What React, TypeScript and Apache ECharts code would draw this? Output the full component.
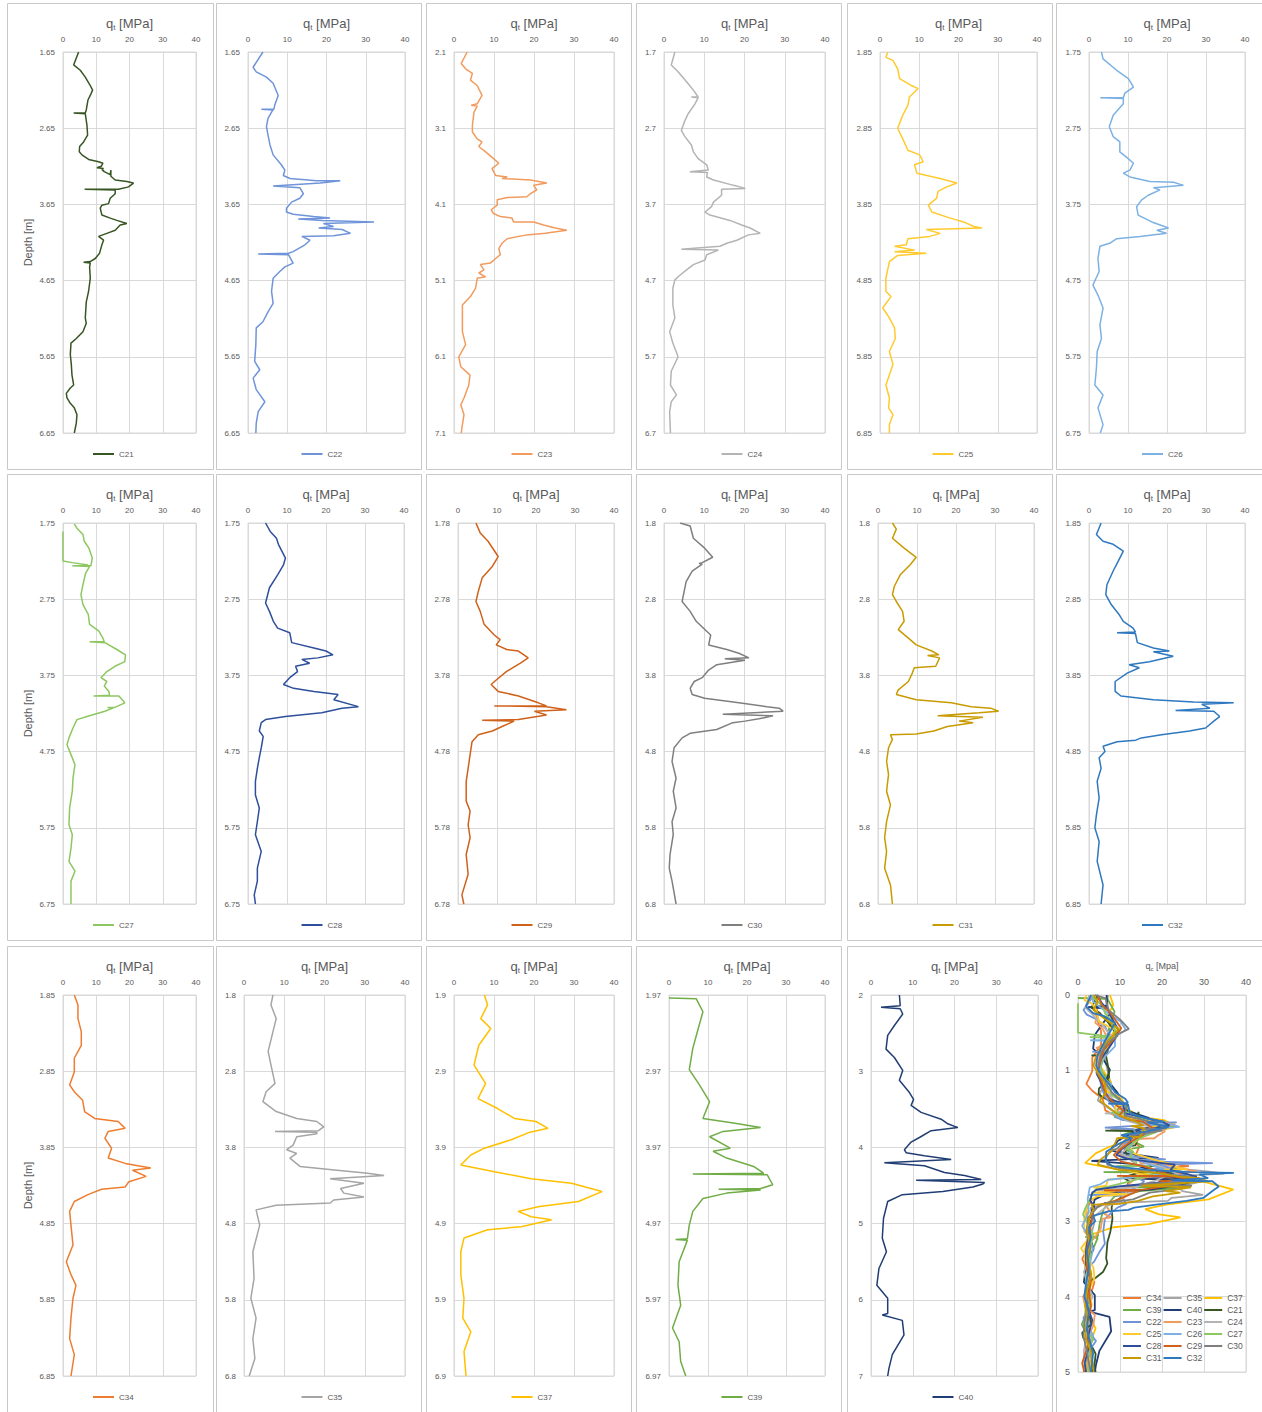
import React, { useEffect, useRef } from "react";
import * as echarts from "echarts";

// ---------- DATA: [q (MPa), depth below first reading (m)] ----------
const C21 = [[4.7,0],[3.2,0.17],[5.2,0.24],[6.7,0.33],[8.2,0.44],[8.9,0.5],[8.2,0.57],[7.5,0.63],[7.0,0.76],[6.7,0.8],[3.2,0.8],[6.7,0.81],[7.2,0.96],[7.4,1.09],[6.2,1.18],[5.0,1.24],[4.9,1.31],[5.7,1.35],[7.7,1.41],[10.7,1.44],[12.0,1.46],[11.5,1.5],[10.2,1.52],[12.2,1.53],[11.7,1.54],[12.4,1.57],[14.2,1.61],[14.4,1.55],[14.4,1.63],[15.7,1.68],[19.2,1.70],[21.2,1.72],[19.7,1.77],[16.7,1.80],[6.5,1.80],[15.7,1.81],[15.7,1.86],[14.2,1.92],[13.7,1.99],[11.7,2.01],[11.2,2.05],[11.7,2.14],[14.2,2.18],[16.2,2.21],[19.2,2.25],[17.2,2.27],[15.7,2.34],[13.2,2.38],[10.7,2.42],[12.2,2.47],[11.7,2.53],[11.0,2.64],[9.7,2.71],[8.2,2.75],[6.2,2.76],[8.2,2.77],[8.0,2.82],[8.2,2.97],[7.7,3.14],[7.0,3.28],[6.7,3.49],[7.0,3.56],[6.0,3.67],[4.0,3.76],[2.4,3.82],[2.2,3.97],[2.5,4.1],[2.7,4.24],[3.2,4.37],[2.2,4.41],[1.0,4.48],[1.2,4.54],[2.2,4.61],[3.4,4.67],[4.2,4.76],[4.0,4.87],[3.4,5.0]];
const C22 = [[3.8,0],[1.3,0.2],[2.1,0.26],[4.7,0.33],[6.4,0.41],[7.7,0.57],[6.8,0.70],[6.6,0.75],[3.4,0.75],[6.4,0.76],[6.0,0.79],[5.1,0.87],[4.7,0.98],[5.1,1.09],[5.6,1.22],[6.4,1.35],[8.5,1.48],[9.4,1.55],[9.0,1.62],[10.7,1.66],[17.5,1.69],[23.5,1.69],[18.4,1.72],[6.4,1.76],[13.2,1.78],[14.1,1.86],[13.2,1.92],[11.1,1.97],[9.8,2.05],[9.8,2.10],[11.5,2.13],[16.7,2.16],[20.9,2.18],[12.8,2.19],[19.0,2.21],[32.1,2.23],[19.2,2.25],[21.8,2.29],[18.0,2.31],[24.0,2.33],[26.1,2.38],[21.8,2.41],[13.7,2.42],[15.8,2.47],[14.5,2.53],[11.5,2.62],[10.3,2.64],[2.6,2.65],[10.3,2.66],[11.5,2.77],[9.4,2.82],[8.1,2.88],[6.4,2.97],[6.0,3.14],[6.4,3.30],[5.1,3.41],[3.8,3.54],[2.1,3.62],[2.0,3.84],[1.7,4.06],[3.0,4.17],[1.3,4.28],[2.1,4.43],[4.3,4.59],[2.6,4.72],[2.1,4.87],[2.0,5.0]];
const C23 = [[3.3,0],[1.8,0.15],[2.9,0.22],[4.6,0.28],[4.1,0.37],[5.8,0.44],[7.0,0.57],[5.8,0.68],[4.3,0.7],[5.8,0.71],[5.0,0.79],[4.6,0.96],[4.6,1.05],[5.8,1.14],[7.0,1.18],[6.2,1.24],[7.9,1.31],[9.9,1.40],[11.2,1.46],[9.5,1.53],[10.4,1.62],[13.3,1.64],[12.0,1.66],[19.1,1.68],[23.2,1.72],[19.9,1.75],[20.7,1.81],[19.1,1.86],[18.2,1.90],[13.3,1.91],[10.8,1.94],[10.8,2.01],[9.3,2.07],[9.9,2.12],[11.6,2.16],[14.5,2.18],[14.9,2.23],[19.9,2.23],[22.4,2.27],[25.3,2.31],[28.2,2.34],[22.8,2.38],[18.2,2.40],[13.3,2.45],[12.0,2.51],[11.2,2.58],[11.6,2.66],[10.4,2.71],[9.1,2.77],[6.6,2.79],[7.5,2.86],[6.2,2.90],[7.9,2.95],[5.8,2.97],[5.4,3.10],[4.1,3.21],[2.1,3.32],[2.1,3.49],[2.1,3.67],[2.9,3.84],[1.2,4.00],[1.7,4.13],[4.0,4.24],[3.7,4.37],[2.5,4.54],[1.7,4.63],[2.5,4.76],[2.1,4.89],[1.8,5.0]];
const C24 = [[2.7,0],[1.8,0.17],[3.5,0.26],[5.6,0.39],[7.3,0.5],[8.5,0.59],[6.8,0.59],[8.5,0.6],[7.7,0.68],[6.0,0.81],[5.2,0.90],[4.3,1.03],[5.2,1.11],[6.8,1.22],[7.3,1.31],[8.5,1.40],[10.6,1.48],[11.0,1.55],[6.4,1.57],[10.8,1.58],[10.6,1.64],[12.3,1.68],[17.3,1.75],[20.2,1.79],[14.3,1.80],[14.3,1.88],[12.3,1.97],[11.8,2.03],[10.2,2.10],[11.4,2.14],[16.4,2.21],[19.3,2.27],[21.4,2.31],[23.9,2.38],[21.0,2.40],[18.1,2.47],[15.6,2.51],[13.9,2.55],[4.3,2.59],[13.5,2.60],[10.6,2.66],[10.2,2.73],[7.3,2.79],[5.6,2.86],[3.5,2.95],[2.7,2.99],[2.2,3.10],[2.2,3.32],[2.7,3.49],[1.4,3.67],[2.2,3.82],[3.5,4.00],[1.8,4.19],[1.6,4.37],[3.1,4.50],[1.8,4.59],[1.4,4.72],[1.6,5.0]];
const C25 = [[2.0,0],[1.5,0.07],[3.3,0.11],[4.5,0.22],[5.0,0.35],[8.0,0.44],[9.7,0.48],[7.5,0.59],[7.1,0.70],[5.8,0.83],[4.5,1.0],[5.8,1.14],[7.1,1.29],[10.1,1.35],[11.0,1.44],[8.8,1.48],[9.4,1.59],[15.3,1.66],[19.6,1.72],[17.0,1.77],[14.8,1.83],[14.4,1.92],[12.3,2.01],[13.2,2.10],[17.9,2.18],[21.3,2.23],[23.9,2.29],[26.0,2.31],[11.8,2.33],[15.3,2.38],[12.7,2.42],[7.1,2.45],[6.7,2.53],[3.7,2.55],[8.8,2.60],[3.7,2.62],[11.8,2.64],[4.5,2.67],[2.4,2.75],[1.5,2.97],[1.5,3.14],[2.8,3.21],[0.7,3.36],[2.4,3.49],[3.7,3.62],[3.9,3.76],[2.4,3.93],[3.3,4.10],[1.5,4.37],[2.4,4.54],[2.2,4.67],[3.3,4.76],[2.4,4.89],[2.4,5.0]];
const C26 = [[3.2,0],[3.6,0.09],[7.1,0.24],[10.1,0.35],[11.4,0.46],[9.2,0.54],[8.8,0.60],[2.9,0.60],[8.8,0.61],[8.8,0.68],[6.2,0.83],[5.2,0.98],[6.2,1.11],[7.9,1.18],[7.9,1.31],[9.6,1.38],[11.4,1.46],[10.5,1.55],[8.8,1.59],[10.5,1.64],[15.6,1.70],[21.7,1.71],[24.2,1.75],[16.5,1.78],[18.2,1.81],[15.2,1.88],[13.5,1.94],[12.2,2.03],[12.6,2.14],[16.1,2.23],[20.4,2.31],[17.4,2.34],[19.9,2.38],[13.1,2.42],[7.1,2.45],[5.3,2.51],[2.8,2.55],[2.3,2.71],[2.6,2.88],[1.0,3.06],[2.3,3.19],[3.6,3.36],[2.8,3.58],[3.2,3.76],[2.1,3.93],[1.9,4.15],[1.5,4.37],[3.6,4.50],[2.3,4.67],[3.6,4.89],[2.9,5.0]];
const C27 = [[3.4,0.01],[4.2,0.07],[6.0,0.15],[6.4,0.24],[7.8,0.33],[8.8,0.46],[8.4,0.56],[2.8,0.56],[8.0,0.57],[6.8,0.66],[6.0,0.81],[5.4,0.94],[6.0,1.07],[7.6,1.20],[8.0,1.33],[10.8,1.42],[12.0,1.51],[12.4,1.56],[8.0,1.56],[12.6,1.57],[16.2,1.66],[18.8,1.73],[18.6,1.82],[15.6,1.88],[13.2,1.95],[11.4,2.03],[13.2,2.08],[12.4,2.14],[13.8,2.21],[14.0,2.26],[9.2,2.27],[16.8,2.27],[18.6,2.36],[15.6,2.42],[13.4,2.42],[15.0,2.43],[12.6,2.47],[7.2,2.54],[4.2,2.58],[3.0,2.69],[1.8,2.82],[1.2,2.91],[2.4,3.04],[3.6,3.17],[3.0,3.35],[2.8,3.52],[2.0,3.74],[1.8,3.96],[2.8,4.09],[2.4,4.27],[1.8,4.44],[3.6,4.57],[2.4,4.70],[2.4,5.0]];
const C27_ZERO_SEGMENT = [[0,0.11],[0,0.50],[2.8,0.52],[7.5,0.55]];
const C28 = [[4.5,0],[5.7,0.11],[7.3,0.20],[7.8,0.28],[9.6,0.46],[9.1,0.55],[7.6,0.68],[5.5,0.85],[4.5,1.05],[5.5,1.16],[6.5,1.29],[7.6,1.38],[10.7,1.44],[11.2,1.57],[16.9,1.64],[20.0,1.68],[21.8,1.73],[17.9,1.77],[13.8,1.79],[15.8,1.84],[12.2,1.88],[12.7,1.95],[10.7,2.03],[9.1,2.12],[11.7,2.17],[16.9,2.21],[23.1,2.25],[22.0,2.32],[28.3,2.41],[24.1,2.43],[18.9,2.49],[9.6,2.54],[4.5,2.58],[3.4,2.62],[2.9,2.73],[3.9,2.80],[3.4,2.95],[2.9,3.08],[2.4,3.22],[1.9,3.39],[1.9,3.57],[2.9,3.74],[2.4,3.92],[1.9,4.09],[3.4,4.31],[2.4,4.53],[2.4,4.70],[1.6,4.88],[1.9,5.0]];
const C29 = [[4.6,0],[5.7,0.13],[7.7,0.24],[10.3,0.44],[8.8,0.57],[6.2,0.72],[5.2,0.90],[4.6,1.03],[5.7,1.16],[6.7,1.33],[9.3,1.47],[10.8,1.53],[9.8,1.60],[12.5,1.66],[15.5,1.68],[18.0,1.77],[16.0,1.84],[12.4,1.95],[9.8,2.06],[8.5,2.12],[10.3,2.21],[15.5,2.27],[20.6,2.36],[22.7,2.40],[9.3,2.40],[22.7,2.41],[27.8,2.45],[19.6,2.47],[22.7,2.52],[15.5,2.58],[6.2,2.59],[14.4,2.60],[11.3,2.67],[8.8,2.73],[5.2,2.78],[3.6,2.87],[3.1,3.04],[2.6,3.22],[2.1,3.39],[2.1,3.65],[3.1,3.78],[2.6,3.96],[3.1,4.13],[2.1,4.35],[2.6,4.61],[1.0,4.88],[1.5,5.0]];
const C30 = [[4.0,0],[6.5,0.04],[7.3,0.20],[10.1,0.33],[12.1,0.45],[9.5,0.52],[8.7,0.53],[9.5,0.54],[7.0,0.63],[5.5,0.77],[5.0,0.90],[4.5,1.03],[6.5,1.16],[8.0,1.29],[10.6,1.42],[11.6,1.47],[11.1,1.60],[15.6,1.66],[18.6,1.71],[21.1,1.77],[15.1,1.78],[20.1,1.80],[13.1,1.86],[11.1,1.93],[10.1,1.99],[9.5,2.03],[7.5,2.08],[6.5,2.17],[7.0,2.25],[10.1,2.30],[18.6,2.36],[25.6,2.41],[28.6,2.43],[29.6,2.47],[14.6,2.51],[27.1,2.53],[23.6,2.57],[20.1,2.60],[17.1,2.62],[13.1,2.71],[6.5,2.76],[4.5,2.82],[2.5,2.95],[2.0,3.13],[3.0,3.35],[2.3,3.52],[3.0,3.74],[2.0,3.92],[2.3,4.09],[1.5,4.35],[1.3,4.53],[2.0,4.70],[3.0,5.0]];
const C31 = [[3.7,0],[4.7,0.08],[3.7,0.20],[6.7,0.33],[9.8,0.45],[8.2,0.55],[5.7,0.68],[4.2,0.83],[3.7,0.94],[4.7,1.03],[6.3,1.16],[6.7,1.29],[5.2,1.40],[7.8,1.51],[9.8,1.60],[13.8,1.68],[15.6,1.73],[12.7,1.74],[15.8,1.77],[14.8,1.88],[9.3,1.90],[8.8,1.97],[7.8,2.08],[5.2,2.19],[4.7,2.25],[9.8,2.32],[18.8,2.36],[23.9,2.41],[28.9,2.43],[30.9,2.47],[25.9,2.49],[15.3,2.53],[26.9,2.55],[20.8,2.60],[24.4,2.62],[17.8,2.67],[14.3,2.73],[9.8,2.77],[3.2,2.78],[3.7,2.84],[2.7,2.95],[2.2,3.13],[2.7,3.30],[2.2,3.52],[3.2,3.70],[2.2,3.92],[1.7,4.13],[2.2,4.31],[1.7,4.53],[3.2,4.75],[3.7,5.0]];
const C32 = [[3.1,0],[1.9,0.15],[3.6,0.24],[6.2,0.28],[8.8,0.37],[7.7,0.48],[6.2,0.63],[4.6,0.81],[4.3,0.94],[5.7,1.07],[7.7,1.20],[8.8,1.29],[11.3,1.38],[11.9,1.43],[7.2,1.44],[11.9,1.45],[12.4,1.57],[16.5,1.64],[20.6,1.68],[16.5,1.69],[21.6,1.75],[15.5,1.82],[10.3,1.86],[12.9,1.90],[9.8,1.97],[6.7,2.08],[6.7,2.21],[8.2,2.27],[16.5,2.32],[26.8,2.35],[37.1,2.36],[28.9,2.38],[31.0,2.43],[22.2,2.46],[32.0,2.47],[33.5,2.54],[32.0,2.60],[29.9,2.69],[25.8,2.73],[18.6,2.78],[13.4,2.82],[12.0,2.85],[7.2,2.87],[3.6,2.93],[4.1,3.00],[2.6,3.08],[3.1,3.22],[2.1,3.39],[2.6,3.61],[1.9,3.83],[1.5,4.0],[2.6,4.18],[2.1,4.44],[3.6,4.75],[3.1,5.0]];
const C34 = [[3.4,0],[4.5,0.13],[4.5,0.31],[5.5,0.48],[5.5,0.66],[3.4,0.83],[3.4,1.01],[2.0,1.18],[3.4,1.27],[5.9,1.38],[6.5,1.53],[9.5,1.62],[16.6,1.66],[18.7,1.75],[13.6,1.79],[12.6,1.88],[14.6,2.01],[13.6,2.14],[18.7,2.21],[26.4,2.27],[20.9,2.30],[25.0,2.38],[19.8,2.45],[18.7,2.52],[11.6,2.55],[7.5,2.62],[3.4,2.71],[2.0,2.84],[2.4,3.02],[3.0,3.28],[1.0,3.50],[2.4,3.67],[3.9,3.81],[3.0,3.98],[2.4,4.24],[2.0,4.51],[3.4,4.72],[2.4,5.0]];
const C35 = [[7.2,0],[6.7,0.13],[8.0,0.31],[7.2,0.48],[6.0,0.74],[6.7,0.92],[7.7,1.16],[5.5,1.27],[4.7,1.40],[8.0,1.53],[13.1,1.62],[18.1,1.66],[19.8,1.73],[18.5,1.78],[7.7,1.79],[18.1,1.80],[18.1,1.82],[13.1,1.86],[12.2,1.97],[10.6,2.03],[13.1,2.08],[11.4,2.14],[13.9,2.25],[23.1,2.30],[30.7,2.34],[34.8,2.37],[21.4,2.41],[29.8,2.47],[24.0,2.54],[24.8,2.60],[29.8,2.65],[22.3,2.69],[21.4,2.73],[8.0,2.76],[3.0,2.82],[3.9,3.02],[2.2,3.37],[2.5,3.72],[1.7,3.98],[3.0,4.24],[2.2,4.51],[2.7,4.77],[1.3,5.0]];
const C37 = [[7.6,0],[8.4,0.13],[6.7,0.31],[9.2,0.44],[6.2,0.66],[5.0,0.92],[7.9,1.16],[6.0,1.36],[10.9,1.49],[15.1,1.62],[20.5,1.66],[23.5,1.75],[19.0,1.80],[14.3,1.90],[7.6,2.01],[4.2,2.10],[1.7,2.23],[10.1,2.32],[19.3,2.41],[29.4,2.47],[37.0,2.58],[31.1,2.71],[21.0,2.78],[16.0,2.84],[19.3,2.91],[24.4,2.95],[16.8,3.04],[8.4,3.08],[2.5,3.19],[1.7,3.37],[1.7,3.67],[2.5,3.98],[2.2,4.24],[4.2,4.42],[2.5,4.68],[3.0,5.0]];
const C39 = [[0,0.04],[7.0,0.05],[8.7,0.22],[7.5,0.44],[6.1,0.70],[5.2,0.98],[7.8,1.18],[10.4,1.40],[8.7,1.62],[16.5,1.68],[23.5,1.74],[13.9,1.79],[10.4,1.86],[15.7,2.01],[11.3,2.05],[14.8,2.14],[21.7,2.25],[24.3,2.34],[6.1,2.35],[25.2,2.36],[26.6,2.49],[23.5,2.54],[12.7,2.55],[23.5,2.56],[14.8,2.60],[8.7,2.67],[6.1,2.84],[5.2,3.02],[4.7,3.20],[1.7,3.21],[4.7,3.22],[2.6,3.50],[2.3,3.81],[3.0,4.07],[0.9,4.37],[2.6,4.55],[3.0,4.81],[4.3,5.0]];
const C40 = [[6.8,0],[7.0,0.14],[2.4,0.16],[7.0,0.18],[7.6,0.25],[5.6,0.40],[4.0,0.53],[3.6,0.71],[5.6,0.82],[7.6,0.99],[6.8,1.12],[9.2,1.28],[10.2,1.37],[9.6,1.45],[12.0,1.54],[16.8,1.63],[18.4,1.69],[20.8,1.74],[14.4,1.78],[11.6,1.87],[9.6,1.93],[8.0,2.03],[8.4,2.07],[12.8,2.11],[19.2,2.16],[3.2,2.20],[12.8,2.24],[17.6,2.33],[22.4,2.37],[26.4,2.42],[10.8,2.43],[27.2,2.46],[26.8,2.48],[24.4,2.52],[17.2,2.58],[7.5,2.62],[4.0,2.71],[3.0,2.93],[2.7,3.19],[3.7,3.37],[1.9,3.59],[1.4,3.81],[4.0,3.98],[4.0,4.18],[2.7,4.2],[7.5,4.27],[7.9,4.46],[5.1,4.72],[4.3,4.90],[4.0,5.0]];

// panel order (reading order) and their first-reading depths (m)
const PANEL_NAMES = ["C21","C22","C23","C24","C25","C26","C27","C28","C29","C30","C31","C32","C34","C35","C37","C39","C40"];
const PANEL_DATA = [C21,C22,C23,C24,C25,C26,C27,C28,C29,C30,C31,C32,C34,C35,C37,C39,C40];
const START_DEPTHS = [1.65,1.65,2.1,1.7,1.85,1.75,1.75,1.75,1.78,1.8,1.8,1.85,1.85,1.8,1.9,1.97,2];
const COLORS = ["#375623","#6F94DA","#F29B5E","#B4B4B4","#FFCA2E","#7DB1E3","#8DC761","#2E4F9C","#D0611A","#7F7F7F","#C89B00","#2E78C0","#ED7D31","#A5A5A5","#FFC000","#70AD47","#213E74"];
// combined panel draw / legend order
const COMBINED_ORDER = ["C34","C35","C37","C39","C40","C21","C22","C23","C24","C25","C26","C27","C28","C29","C30","C31","C32"];

// ---------- LAYOUT ----------
const PLOT_X = [[63,196],[248,405],[454,614],[664,825],[880,1037],[1089,1245],
                [63,196],[248,404],[458,614],[664,825],[878,1034],[1089,1245],
                [63,196],[244,405],[454,614],[669,825],[871,1038],[1078,1246]];
const ROW_TOP = [52, 523, 995];
const PLOT_H = 381;
const FRAME_X = [7,216,426,636,847,1056];
const FRAME_W = [206,205,205,205,205,206];
const FRAME_TOP = [3,474,946];
const FRAME_H = 466;
const GRID_COLOR = "#D9D9D9";
const TEXT_COLOR = "#595959";
const FONT = "Liberation Sans";

function fmtDepth(v: number) {
  return String(Math.round(v * 100) / 100);
}

function lineSeries(name: string, axis: number, data: number[][], color: string, width: number) {
  return {
    type: "line", name, xAxisIndex: axis, yAxisIndex: axis, data,
    symbol: "none", showSymbol: false, silent: true,
    lineStyle: { width, color }, itemStyle: { color },
  };
}

function buildOption() {
  const grids: any[] = [];
  const xAxes: any[] = [];
  const yAxes: any[] = [];
  const series: any[] = [];
  const legends: any[] = [];
  const graphics: any[] = [];

  for (let p = 0; p < 18; p++) {
    const row = Math.floor(p / 6);
    const col = p % 6;
    const [x0, x1] = PLOT_X[p];
    const combined = p === 17;
    const top = ROW_TOP[row];
    const h = combined ? 377 : PLOT_H;
    grids.push({ left: x0, top, width: x1 - x0, height: h, show: true, borderColor: GRID_COLOR, borderWidth: 1 });
    xAxes.push({
      gridIndex: p, type: "value", min: 0, max: 40, interval: 10, position: "top",
      axisLine: { show: false }, axisTick: { show: false },
      axisLabel: { fontSize: combined ? 9 : 8, color: TEXT_COLOR, margin: 9, fontFamily: FONT },
      splitLine: { show: true, lineStyle: { color: GRID_COLOR, width: 1 } },
    });
    const start = combined ? 0 : START_DEPTHS[p];
    const yAxis: any = {
      gridIndex: p, type: "value", inverse: true, min: 0, max: 5, interval: 1,
      axisLine: { show: false }, axisTick: { show: false },
      axisLabel: { fontSize: combined ? 9 : 8, color: TEXT_COLOR, margin: 8, fontFamily: FONT,
        formatter: (v: number) => fmtDepth(start + v) },
      splitLine: { show: true, lineStyle: { color: GRID_COLOR, width: 1 } },
    };
    if (col === 0) {
      yAxis.name = "Depth [m]";
      yAxis.nameLocation = "middle";
      yAxis.nameGap = 30;
      yAxis.nameTextStyle = { fontSize: 11, color: TEXT_COLOR, fontFamily: FONT };
    }
    yAxes.push(yAxis);

    // frame
    graphics.push({
      type: "rect", silent: true, z: -10,
      shape: { x: FRAME_X[col] + 0.5, y: FRAME_TOP[row] + 0.5, width: FRAME_W[col], height: FRAME_H },
      style: { fill: "none", stroke: "#C9C9C9", lineWidth: 1 },
    });
    // title
    const cx = (x0 + x1) / 2;
    graphics.push({
      type: "text", silent: true, x: cx, y: top - 29,
      style: combined
        ? { text: "{a|q}{s|c}{a| [Mpa]}", align: "center", verticalAlign: "middle",
            rich: { a: { fontSize: 9, fill: TEXT_COLOR, fontFamily: FONT, lineHeight: 12 },
                    s: { fontSize: 6, fill: TEXT_COLOR, fontFamily: FONT, lineHeight: 6, verticalAlign: "bottom" } } }
        : { text: "{a|q}{s|t}{a| [MPa]}", align: "center", verticalAlign: "middle",
            rich: { a: { fontSize: 13, fill: TEXT_COLOR, fontFamily: FONT, lineHeight: 16 },
                    s: { fontSize: 8, fill: TEXT_COLOR, fontFamily: FONT, lineHeight: 8, verticalAlign: "bottom" } } },
    });

    if (!combined) {
      const name = PANEL_NAMES[p];
      series.push(lineSeries(name, p, PANEL_DATA[p], COLORS[p], 1.5));
      if (name === "C27") series.push(lineSeries(name, p, C27_ZERO_SEGMENT, COLORS[p], 1.5));
      const fc = FRAME_X[col] + FRAME_W[col] / 2;
      legends.push({
        data: [name], left: fc - 22, top: top + PLOT_H + 12, icon: "rect", itemWidth: 21, itemHeight: 2, itemGap: 4,
        selectedMode: false, textStyle: { fontSize: 8, color: TEXT_COLOR, fontFamily: FONT },
      });
    } else {
      for (const name of COMBINED_ORDER) {
        const i = PANEL_NAMES.indexOf(name);
        series.push(lineSeries(name, 17, PANEL_DATA[i], COLORS[i], 1.8));
        if (name === "C27") series.push(lineSeries(name, 17, C27_ZERO_SEGMENT, COLORS[i], 1.8));
      }
      legends.push({
        data: COMBINED_ORDER, left: 1123, top: 1293, width: 124, orient: "horizontal", icon: "rect",
        itemWidth: 18, itemHeight: 2, itemGap: 2, padding: 0, selectedMode: false,
        textStyle: { fontSize: 8.5, color: TEXT_COLOR, fontFamily: FONT, lineHeight: 10 },
      });
    }
  }

  return {
    animation: false,
    backgroundColor: "#ffffff",
    textStyle: { fontFamily: FONT },
    grid: grids,
    xAxis: xAxes,
    yAxis: yAxes,
    series,
    legend: legends,
    graphic: graphics,
  };
}

export default function App() {
  const ref = useRef<HTMLDivElement>(null);
  useEffect(() => {
    if (!ref.current) return;
    const chart = echarts.init(ref.current, null, { renderer: "svg" });
    chart.setOption(buildOption() as any);
    return () => chart.dispose();
  }, []);
  return (
    <div
      ref={ref}
      style={{ position: "absolute", left: 0, top: 0, width: 1262, height: 1412, background: "#fff" }}
    />
  );
}
